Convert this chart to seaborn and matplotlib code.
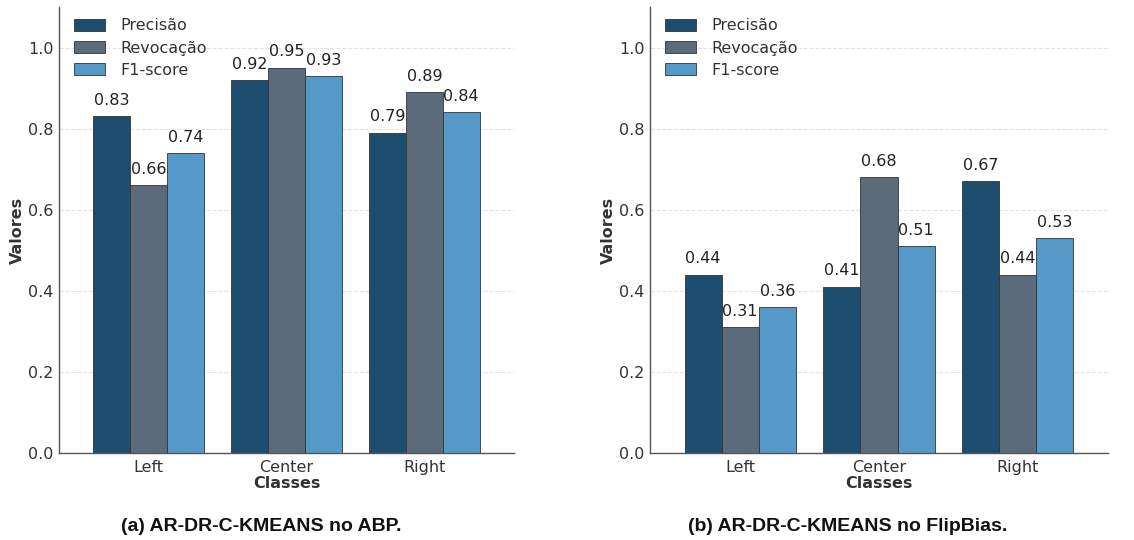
import matplotlib
matplotlib.use("Agg")
import matplotlib.pyplot as plt
import seaborn as sns
import pandas as pd

classes = ["Left", "Center", "Right"]
metrics = ["Precisão", "Revocação", "F1-score"]
abp_precisao = [0.83, 0.92, 0.79]
abp_revocacao = [0.66, 0.95, 0.89]
abp_f1 = [0.74, 0.93, 0.84]
flip_precisao = [0.44, 0.41, 0.67]
flip_revocacao = [0.31, 0.68, 0.44]
flip_f1 = [0.36, 0.51, 0.53]
captions = ["(a) AR-DR-C-KMEANS no ABP.", "(b) AR-DR-C-KMEANS no FlipBias."]
caption_x = [261, 848]
colors = ["#1d4e6f", "#5c6b7c", "#5599c9"]

def make_df(p, r, f):
    rows = []
    for m, vals in zip(metrics, [p, r, f]):
        for c, v in zip(classes, vals):
            rows.append({"Classes": c, "Métrica": m, "Valores": v})
    return pd.DataFrame(rows)

sns.set_theme(style="white")
plt.rcParams['font.family'] = ['DejaVu Sans']

W, H = 1134, 540
fig = plt.figure(figsize=(W / 100, H / 100), dpi=100)
axes = [fig.add_axes([59 / W, 87 / H, 455 / W, 446 / H]),
        fig.add_axes([650 / W, 87 / H, 458 / W, 446 / H])]
dfs = [make_df(abp_precisao, abp_revocacao, abp_f1),
       make_df(flip_precisao, flip_revocacao, flip_f1)]

for ax, df, cap, cx in zip(axes, dfs, captions, caption_x):
    sns.barplot(data=df, x="Classes", y="Valores", hue="Métrica",
                palette=colors, ax=ax, edgecolor="#333333", linewidth=0.6,
                saturation=1, width=0.8)
    for cont in ax.containers:
        ax.bar_label(cont, fmt="%.2f", padding=6, fontsize=11.5, color="#222222")
    ax.set_ylim(0, 1.1)
    ax.set_xlim(-0.65, 2.65)
    ax.set_yticks([0.0, 0.2, 0.4, 0.6, 0.8, 1.0])
    ax.set_yticklabels(["0.0", "0.2", "0.4", "0.6", "0.8", "1.0"])
    ax.tick_params(axis="y", labelsize=11.5, colors="#333333", length=0, pad=4)
    ax.tick_params(axis="x", labelsize=11.5, colors="#333333", length=0, pad=5)
    ax.yaxis.grid(True, linestyle="--", color="#e2e2e2", linewidth=0.8)
    ax.set_axisbelow(True)
    for s in ["top", "right"]:
        ax.spines[s].set_visible(False)
    for s in ["left", "bottom"]:
        ax.spines[s].set_color("#555555")
        ax.spines[s].set_linewidth(1.0)
    ax.set_xlabel("Classes", fontsize=11.5, fontweight="bold", color="#333333", labelpad=1)
    ax.set_ylabel("Valores", fontsize=11.5, fontweight="bold", color="#333333", labelpad=2)
    bw = ax.get_position().width * W
    bh = ax.get_position().height * H
    leg = ax.legend(loc="upper left", frameon=False, fontsize=11.5,
                    bbox_to_anchor=(9 / bw, 1 - 5 / bh), borderaxespad=0,
                    handlelength=1.9, handleheight=0.8,
                    labelspacing=0.45, handletextpad=1.0)
    for t in leg.get_texts():
        t.set_color("#333333")
    fig.text(cx / W, 9 / H, cap, ha="center", va="baseline",
             fontsize=14, fontweight="bold", family="Liberation Sans", color="#111111")

fig.savefig("out.png", dpi=100)
